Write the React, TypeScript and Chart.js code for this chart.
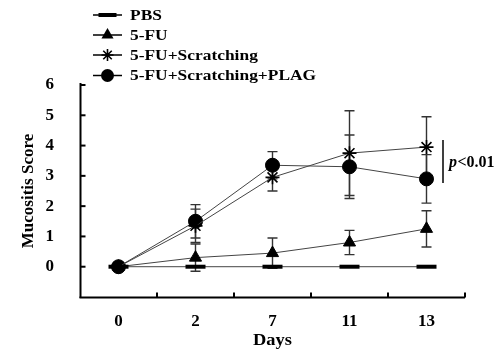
import React, { useEffect, useRef } from "react";
import { Chart, registerables } from "chart.js";

Chart.register(...registerables);

const days = ["0", "2", "7", "11", "13"];
const yTicks = [0, 1, 2, 3, 4, 5, 6];

const pbs = [0, 0, 0, 0, 0];
const pbsSd = [0, 0, 0, 0, 0];
const fu = [0, 0.3, 0.45, 0.8, 1.25];
const fuSd = [0, 0.45, 0.5, 0.4, 0.6];
const scr = [0, 1.35, 2.95, 3.75, 3.95];
const scrSd = [0, 0.55, 0.45, 1.4, 1.0];
const plag = [0, 1.5, 3.35, 3.3, 2.9];
const plagSd = [0, 0.55, 0.45, 1.05, 0.8];

const seriesNames = ["PBS", "5-FU", "5-FU+Scratching", "5-FU+Scratching+PLAG"];
const FONT = "'Liberation Serif', 'Times New Roman', serif";

function drawMarker(ctx: CanvasRenderingContext2D, kind: string, x: number, y: number) {
  ctx.save();
  ctx.fillStyle = "#000";
  ctx.strokeStyle = "#000";
  if (kind === "bar") {
    ctx.fillRect(x - 9, y - 2, 18, 4);
  } else if (kind === "tri") {
    const r = 7;
    ctx.beginPath();
    ctx.moveTo(x, y - r);
    ctx.lineTo(x + r * 0.866, y + r * 0.5);
    ctx.lineTo(x - r * 0.866, y + r * 0.5);
    ctx.closePath();
    ctx.fill();
  } else if (kind === "star") {
    const r = 6;
    ctx.lineWidth = 1.6;
    ctx.beginPath();
    ctx.moveTo(x, y - r); ctx.lineTo(x, y + r);
    ctx.moveTo(x - r, y); ctx.lineTo(x + r, y);
    const d = r * 0.707;
    ctx.moveTo(x - d, y - d); ctx.lineTo(x + d, y + d);
    ctx.moveTo(x - d, y + d); ctx.lineTo(x + d, y - d);
    ctx.stroke();
  } else {
    ctx.beginPath();
    ctx.arc(x, y, 6.5, 0, Math.PI * 2);
    ctx.fill();
  }
  ctx.restore();
}

function stretchedText(ctx: CanvasRenderingContext2D, text: string, x: number, y: number, sx: number) {
  ctx.save();
  ctx.translate(x, y);
  ctx.scale(sx, 1);
  ctx.fillText(text, 0, 0);
  ctx.restore();
}

const decorPlugin = {
  id: "decor",
  beforeDatasetsDraw(chart: any) {
    const ctx = chart.ctx as CanvasRenderingContext2D;
    const xs = chart.scales.x;
    const ys = chart.scales.y;
    const groups = [
      [pbs, pbsSd],
      [fu, fuSd],
      [scr, scrSd],
      [plag, plagSd],
    ];
    ctx.save();
    ctx.strokeStyle = "#333";
    ctx.lineWidth = 1.4;
    groups.forEach(([vals, sds]) => {
      vals.forEach((v: number, i: number) => {
        const sd = sds[i];
        if (!sd) return;
        const x = xs.getPixelForValue(i);
        const yt = ys.getPixelForValue(v + sd);
        const yb = ys.getPixelForValue(v - sd);
        ctx.beginPath();
        ctx.moveTo(x, yt); ctx.lineTo(x, yb);
        ctx.moveTo(x - 5, yt); ctx.lineTo(x + 5, yt);
        ctx.moveTo(x - 5, yb); ctx.lineTo(x + 5, yb);
        ctx.stroke();
      });
    });
    ctx.restore();
  },
  afterDraw(chart: any) {
    const ctx = chart.ctx as CanvasRenderingContext2D;
    const xs = chart.scales.x;
    const ys = chart.scales.y;
    const area = chart.chartArea;
    ctx.save();
    ctx.strokeStyle = "#000";
    ctx.lineWidth = 2;
    // y axis
    const ax = Math.round(area.left) + 0.5;
    ctx.beginPath();
    ctx.moveTo(ax, ys.getPixelForValue(6) - 2);
    ctx.lineTo(ax, area.bottom + 1);
    ctx.stroke();
    yTicks.forEach((t) => {
      const y = ys.getPixelForValue(t);
      ctx.beginPath();
      ctx.moveTo(ax, y);
      ctx.lineTo(ax + 5, y);
      ctx.stroke();
    });
    // x axis
    const by = Math.round(area.bottom) + 0.5;
    ctx.beginPath();
    ctx.moveTo(ax - 1, by);
    ctx.lineTo(area.right, by);
    ctx.stroke();
    for (let i = 1; i <= days.length; i++) {
      const x = i === days.length ? area.right : (xs.getPixelForValue(i - 1) + xs.getPixelForValue(i)) / 2;
      ctx.beginPath();
      ctx.moveTo(x, by);
      ctx.lineTo(x, by - 5);
      ctx.stroke();
    }
    // axis titles
    ctx.fillStyle = "#000";
    ctx.font = `bold 16px ${FONT}`;
    ctx.textAlign = "center";
    ctx.textBaseline = "middle";
    stretchedText(ctx, "Days", (area.left + area.right) / 2, 341, 1.15);
    ctx.save();
    ctx.font = `bold 17px ${FONT}`;
    ctx.translate(29, (area.top + area.bottom) / 2);
    ctx.rotate(-Math.PI / 2);
    ctx.fillText("Mucositis Score", 0, 0);
    ctx.restore();
    // legend
    const kinds = ["bar", "tri", "star", "circle"];
    const rowsY = [15, 35, 55, 75.5];
    ctx.font = `bold 15px ${FONT}`;
    ctx.textAlign = "left";
    kinds.forEach((k, i) => {
      const y = rowsY[i];
      ctx.strokeStyle = "#000";
      ctx.lineWidth = 1.5;
      ctx.beginPath();
      ctx.moveTo(93, y);
      ctx.lineTo(122, y);
      ctx.stroke();
      drawMarker(ctx, k, 107.5, y);
      ctx.fillStyle = "#000";
      stretchedText(ctx, seriesNames[i], 130, y + 1, 1.16);
    });
    // p-value bracket
    ctx.lineWidth = 1.5;
    ctx.beginPath();
    ctx.moveTo(443, 140);
    ctx.lineTo(443, 183);
    ctx.stroke();
    ctx.font = `italic bold 16px ${FONT}`;
    ctx.fillText("p", 449, 163);
    const pw = ctx.measureText("p").width;
    ctx.font = `bold 16px ${FONT}`;
    ctx.fillText("<0.01", 449 + pw + 0.5, 163);
    ctx.restore();
  },
};

export default function App() {
  const ref = useRef<HTMLCanvasElement | null>(null);
  useEffect(() => {
    if (!ref.current) return;
    Chart.defaults.color = "#000";
    const lineCommon = {
      borderColor: "#444",
      borderWidth: 1,
      pointBackgroundColor: "#000",
      pointBorderColor: "#000",
      tension: 0,
    };
    const chart = new Chart(ref.current, {
      type: "line",
      data: {
        labels: days,
        datasets: [
          { ...lineCommon, label: seriesNames[0], data: pbs, pointStyle: "line", pointRadius: 10, pointBorderWidth: 4 },
          { ...lineCommon, label: seriesNames[1], data: fu, pointStyle: "triangle", pointRadius: 7, pointBorderWidth: 1 },
          { ...lineCommon, label: seriesNames[2], data: scr, pointStyle: "star", pointRadius: 7, pointBorderWidth: 1.6 },
          { ...lineCommon, label: seriesNames[3], data: plag, pointStyle: "circle", pointRadius: 7, pointBorderWidth: 1 },
        ],
      },
      options: {
        responsive: false,
        animation: false,
        layout: { padding: { top: 85, right: 36, left: 0, bottom: 0 } },
        plugins: { legend: { display: false }, tooltip: { enabled: false } },
        scales: {
          x: {
            type: "category",
            offset: true,
            grid: { display: false },
            border: { display: false },
            ticks: { font: { family: FONT, size: 17, weight: "bold" }, color: "#000", padding: 6 },
            afterFit: (s: any) => { s.height = 57; },
          },
          y: {
            min: -1,
            max: 6,
            grid: { display: false },
            border: { display: false },
            afterBuildTicks: (s: any) => { s.ticks = yTicks.map((v) => ({ value: v })); },
            ticks: { stepSize: 1, font: { family: FONT, size: 17, weight: "bold" }, color: "#000", padding: 18 },
            afterFit: (s: any) => { s.width = 80; },
          },
        },
      },
      plugins: [decorPlugin],
    } as any);
    return () => chart.destroy();
  }, []);
  return (
    <div style={{ position: "absolute", left: 0, top: 0, width: 501, height: 354, background: "#fff" }}>
      <canvas ref={ref} width={501} height={354} />
    </div>
  );
}
